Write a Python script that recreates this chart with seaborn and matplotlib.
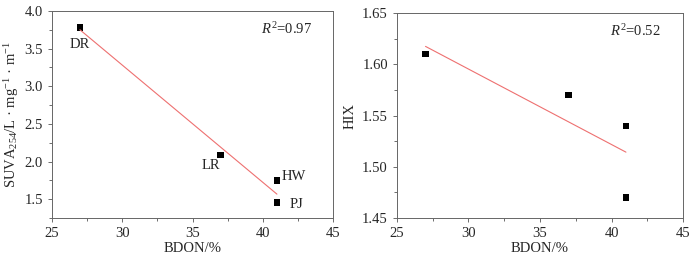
import numpy as np
import pandas as pd
import matplotlib
matplotlib.use("Agg")
import matplotlib.pyplot as plt
from matplotlib.ticker import MultipleLocator
import seaborn as sns

# data
sites = ["DR", "LR", "HW", "PJ"]
bdon = [27, 37, 41, 41]
suva = [3.78, 2.09, 1.75, 1.46]
hix = [1.61, 1.57, 1.54, 1.47]

df = pd.DataFrame({"site": sites, "bdon": bdon, "suva": suva, "hix": hix})

sns.set_style("ticks")
plt.rcParams["font.family"] = ["Liberation Serif", "DejaVu Serif"]
plt.rcParams["mathtext.fontset"] = "custom"
plt.rcParams["mathtext.rm"] = "Liberation Serif"
plt.rcParams["mathtext.it"] = "Liberation Serif:italic"
fs = 10.5

fig = plt.figure(figsize=(7, 2.56), dpi=100)
ax1 = fig.add_axes([0.074, 0.148, 0.402, 0.809])
ax2 = fig.add_axes([0.567, 0.148, 0.409, 0.801])

line_kws = {"color": "#ee7070", "linewidth": 0.8}
pt_kws = {"marker": "s", "color": "black", "s": 22, "edgecolor": "none"}

# left panel
sns.regplot(data=df, x="bdon", y="suva", ax=ax1, ci=None, scatter=False, line_kws=line_kws)
sns.scatterplot(data=df, x="bdon", y="suva", ax=ax1, **pt_kws)
label_pos = {"DR": (27, 3.55), "LR": (36.3, 1.95), "HW": (42.2, 1.80), "PJ": (42.4, 1.43)}
for s in sites:
    x, y = label_pos[s]
    ax1.text(x, y, s, ha="center", va="center", fontsize=fs)
ax1.text(39.9, 3.76, "$R^2$=0.97", fontsize=fs, va="center")
ax1.set_xlim(25, 45)
ax1.set_ylim(1.25, 4.0)
ax1.yaxis.set_major_locator(MultipleLocator(0.5))
ax1.yaxis.set_minor_locator(MultipleLocator(0.25))
ax1.yaxis.set_major_formatter(plt.FormatStrFormatter("%.1f"))
ax1.set_ylabel(r"SUVA$_{254}$/L · mg$^{-1}$ · m$^{-1}$", fontsize=fs, labelpad=2)

# right panel
sns.regplot(data=df, x="bdon", y="hix", ax=ax2, ci=None, scatter=False, line_kws=line_kws)
sns.scatterplot(data=df, x="bdon", y="hix", ax=ax2, **pt_kws)
ax2.text(39.9, 1.632, "$R^2$=0.52", fontsize=fs, va="center")
ax2.set_xlim(25, 45)
ax2.set_ylim(1.45, 1.65)
ax2.yaxis.set_major_locator(MultipleLocator(0.05))
ax2.yaxis.set_minor_locator(MultipleLocator(0.025))
ax2.yaxis.set_major_formatter(plt.FormatStrFormatter("%.2f"))
ax2.set_ylabel("HIX", fontsize=fs, labelpad=4)

for ax in (ax1, ax2):
    ax.xaxis.set_major_locator(MultipleLocator(5))
    ax.xaxis.set_minor_locator(MultipleLocator(2.5))
    ax.set_xlabel("BDON/%", fontsize=fs, labelpad=1)
    ax.tick_params(which="major", length=3, width=0.6, labelsize=fs, color="#555555")
    ax.tick_params(which="minor", length=2, width=0.6, color="#555555")
    for sp in ax.spines.values():
        sp.set_visible(True)
        sp.set_linewidth(0.7)
        sp.set_color("#666666")

fig.savefig("out.png", dpi=100)
